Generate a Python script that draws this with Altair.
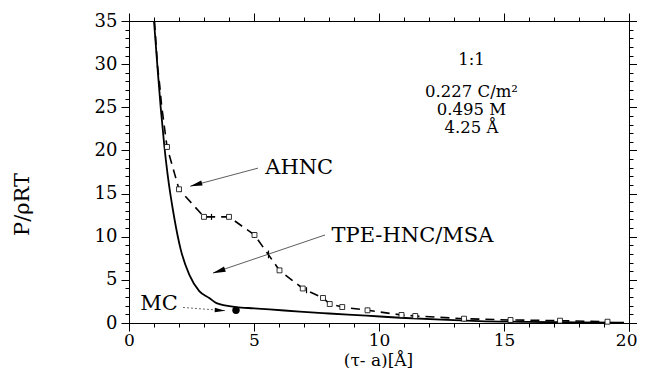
import altair as alt
import pandas as pd

# TPE-HNC/MSA (solid)
solid_x = [1.0, 1.14, 1.27, 1.41, 1.54, 1.81, 2.07, 2.41, 2.81, 3.21, 3.5, 4.28, 5.0, 5.62, 6.83, 8.0, 9.5, 10.84, 12.5, 14.0, 16.0, 18.0, 19.8]
solid_y = [35, 29.6, 24.9, 20.6, 17.3, 12.2, 8.5, 5.6, 3.7, 2.9, 2.3, 1.85, 1.7, 1.58, 1.31, 1.1, 0.85, 0.61, 0.38, 0.22, 0.12, 0.07, 0.04]

# AHNC (dashed, with square markers)
ahnc_x = [1.02, 1.14, 1.23, 1.3, 1.52, 2.0, 3.0, 4.0, 5.02, 6.02, 6.95, 7.76, 8.03, 8.53, 9.54, 10.9, 11.45, 13.4, 15.26, 17.24, 19.14]
ahnc_y = [35, 29.8, 27.5, 25.3, 20.4, 15.5, 12.3, 12.3, 10.2, 6.1, 4.0, 2.9, 2.2, 1.85, 1.47, 0.93, 0.81, 0.5, 0.35, 0.27, 0.15]
marker_x = [1.52, 2.0, 3.0, 4.0, 5.02, 6.02, 6.95, 7.76, 8.03, 8.53, 9.54, 10.9, 11.45, 13.4, 15.26, 17.24, 19.14]
marker_y = [20.4, 15.5, 12.3, 12.3, 10.2, 6.1, 4.0, 2.9, 2.2, 1.85, 1.47, 0.93, 0.81, 0.5, 0.35, 0.27, 0.15]
err_x = [3.3, 5.02, 5.58, 7.1, 7.76, 9.54, 11.45]
err_y = [12.3, 10.2, 7.95, 3.8, 2.9, 1.47, 0.81]
err_d = [0.35, 0.35, 0.45, 0.35, 0.3, 0.3, 0.3]

# Monte Carlo point
mc_x = [4.28]
mc_y = [1.47]

# Annotations
label_text = ["AHNC", "TPE-HNC/MSA", "MC"]
label_x = [5.45, 8.1, 0.45]
label_y = [18.0, 10.1, 2.15]
arrow_x = [5.16, 7.84, 2.16]
arrow_y = [17.95, 10.2, 1.8]
arrow_x2 = [2.45, 3.36, 3.84]
arrow_y2 = [15.85, 5.8, 1.43]
arrow_dash = ["solid", "solid", "dotted"]
head_x = [2.68, 3.59, 3.64]
head_y = [16.03, 6.0, 1.46]
head_angle = [255, 251, 94]
head_size = [150, 170, 110]

info_text = ["1:1", "0.227 C/m²", "0.495 M", "4.25 Å"]
info_x = [13.7, 13.7, 13.7, 13.7]
info_y = [30.45, 26.75, 24.65, 22.55]

major_x = [0, 5, 10, 15, 20]
minor_x = list(range(0, 21))
major_y = [0, 5, 10, 15, 20, 25, 30, 35]
minor_y = list(range(0, 36))
last_x = [20]

FONT = "DejaVu Serif"
xs = alt.Scale(domain=[0, 20], nice=False, zero=False)
ys = alt.Scale(domain=[0, 35], nice=False, zero=False)

common = dict(grid=False, domainColor="black", tickColor="black", domainWidth=1, tickWidth=1,
              labelColor="black", labelFont=FONT, titleColor="black")

x_major = alt.Axis(orient="bottom", values=major_x, tickSize=8, labelPadding=1, labelFlush=False, labelFontSize=17,
                   labelExpr="datum.value == 20 ? '' : datum.label",
                   title="(τ- a)[Å]", titleFont=FONT, titleFontSize=17, titleFontWeight="normal",
                   titleX=249, titleY=37, titleBaseline="middle", **common)
x_last = alt.Axis(orient="bottom", values=last_x, tickSize=8, labelPadding=1, labelFlush=False, labelFontSize=17,
                  labelAlign="right", labelOffset=8, domain=False, title=None, **common)
y_major = alt.Axis(orient="left", values=major_y, tickSize=8, labelPadding=4, labelFlush=False, labelFontSize=18,
                   title="P/ρRT", titleFont=FONT, titleFontSize=21, titleFontWeight="normal",
                   titleAngle=270, titleX=-107, titleY=183, titleBaseline="middle", titleAlign="center",
                   **common)
x_minor = alt.Axis(orient="bottom", values=minor_x, tickSize=4, labels=False, domain=False, title=None, **common)
y_minor = alt.Axis(orient="left", values=minor_y, tickSize=4, labels=False, domain=False, title=None, **common)
x_top_major = alt.Axis(orient="top", values=major_x, tickSize=8, labels=False, title=None, **common)
y_right_major = alt.Axis(orient="right", values=major_y, tickSize=8, labels=False, title=None, **common)
x_top_minor = alt.Axis(orient="top", values=minor_x, tickSize=4, labels=False, domain=False, title=None, **common)
y_right_minor = alt.Axis(orient="right", values=minor_y, tickSize=4, labels=False, domain=False, title=None, **common)

solid_df = pd.DataFrame({"x": solid_x, "y": solid_y})
ahnc_df = pd.DataFrame({"x": ahnc_x, "y": ahnc_y})
marker_df = pd.DataFrame({"x": marker_x, "y": marker_y})
err_df = pd.DataFrame({"x": err_x, "lo": [a - d for a, d in zip(err_y, err_d)], "hi": [a + d for a, d in zip(err_y, err_d)]})
mc_df = pd.DataFrame({"x": mc_x, "y": mc_y})
label_df = pd.DataFrame({"t": label_text, "x": label_x, "y": label_y})
arrow_df = pd.DataFrame({"x": arrow_x, "y": arrow_y, "x2": arrow_x2, "y2": arrow_y2, "d": arrow_dash})
head_df = pd.DataFrame({"x": head_x, "y": head_y, "a": head_angle, "s": head_size})
info_df = pd.DataFrame({"t": info_text, "x": info_x, "y": info_y})

solid = alt.Chart(solid_df).mark_line(color="black", strokeWidth=1.8, interpolate="monotone").encode(
    x=alt.X("x:Q", scale=xs, axis=x_major), y=alt.Y("y:Q", scale=ys, axis=y_major), order="x:Q")

dashed = alt.Chart(ahnc_df).mark_line(color="black", strokeWidth=1.6, strokeDash=[9, 6]).encode(
    x=alt.X("x:Q", scale=xs, axis=x_minor), y=alt.Y("y:Q", scale=ys, axis=y_minor), order="x:Q")

errs = alt.Chart(err_df).mark_rule(color="black", strokeWidth=1.2).encode(
    x=alt.X("x:Q", scale=xs, axis=x_last), y=alt.Y("lo:Q", scale=ys, axis=None), y2="hi:Q")

markers = alt.Chart(marker_df).mark_point(shape="square", size=24, filled=True, fill="white",
                                          stroke="black", strokeWidth=0.8, opacity=1).encode(
    x=alt.X("x:Q", scale=xs, axis=x_top_major), y=alt.Y("y:Q", scale=ys, axis=y_right_major))

arrows_solid = alt.Chart(arrow_df[arrow_df.d == "solid"]).mark_rule(color="#333", strokeWidth=0.8).encode(
    x=alt.X("x:Q", scale=xs, axis=None), y=alt.Y("y:Q", scale=ys, axis=None), x2="x2:Q", y2="y2:Q")
arrows_dot = alt.Chart(arrow_df[arrow_df.d == "dotted"]).mark_rule(color="#444", strokeWidth=0.8, strokeDash=[2, 2]).encode(
    x=alt.X("x:Q", scale=xs, axis=None), y=alt.Y("y:Q", scale=ys, axis=None), x2="x2:Q", y2="y2:Q")

heads = alt.Chart(head_df).mark_point(shape="M0,-1L0.42,1L-0.42,1Z", filled=True, color="black", opacity=1).encode(
    x=alt.X("x:Q", scale=xs, axis=None), y=alt.Y("y:Q", scale=ys, axis=None),
    angle=alt.Angle("a:Q", scale=None), size=alt.Size("s:Q", scale=None, legend=None))

labels = alt.Chart(label_df).mark_text(font=FONT, fontSize=21, align="left", baseline="middle", color="black").encode(
    x=alt.X("x:Q", scale=xs, axis=None), y=alt.Y("y:Q", scale=ys, axis=None), text="t:N")

info = alt.Chart(info_df).mark_text(font=FONT, fontSize=16.5, align="center", baseline="middle", color="black").encode(
    x=alt.X("x:Q", scale=xs, axis=None), y=alt.Y("y:Q", scale=ys, axis=None), text="t:N")

mc = alt.Chart(mc_df).mark_point(shape="circle", size=55, filled=True, color="black", opacity=1).encode(
    x=alt.X("x:Q", scale=xs, axis=x_top_minor), y=alt.Y("y:Q", scale=ys, axis=y_right_minor))

chart = alt.layer(solid, dashed, errs, markers, arrows_solid, arrows_dot, heads, labels, info, mc).resolve_axis(
    x="independent", y="independent"
).properties(
    width=500, height=302,
    autosize=alt.AutoSizeParams(type="none"),
    padding={"left": 121, "top": 13, "right": 8, "bottom": 45},
    background="white",
).configure_view(stroke="black", strokeWidth=1)

chart.save("out.html", embed_options={"renderer": "svg", "actions": False})
